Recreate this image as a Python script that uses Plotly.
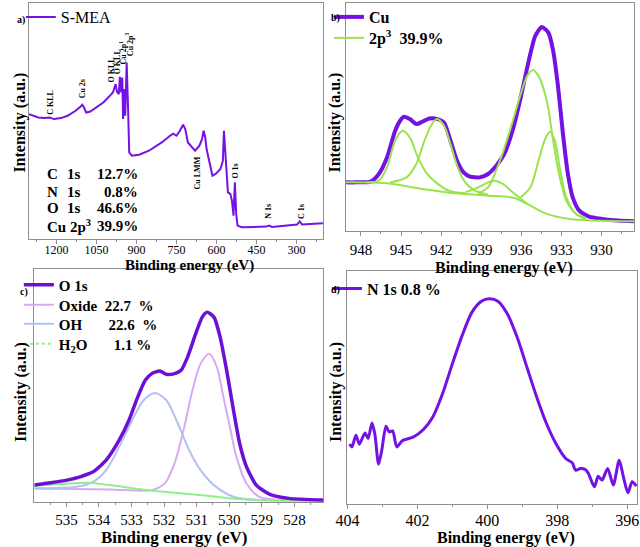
import plotly.graph_objects as go

W, H = 640, 547
def PX(x): return x / W
def PY(y): return 1 - y / H

SERIF = "Liberation Serif, Times New Roman, serif"
PURPLE = "#7412e3"
PURPLE_C = "#6c10d6"
GREEN = "#9be24f"
OXIDE = "#d9aaf2"
OH = "#b3c0f3"
H2O = "#8ff08a"
FRAME = "#8f8f8f"

# ---------------- data ----------------
# a) survey spectrum (binding energy eV, intensity a.u.)
survey_be = [1303, 1268, 1244, 1226, 1208, 1183, 1158, 1128, 1110, 1103, 1098, 1088, 1073, 1049, 1024,
             1000, 988, 978, 973, 966, 962, 957, 953, 950, 946, 942, 939, 936.5, 931, 927,
             917, 890, 853, 805, 774, 762, 750, 737, 725, 717, 707, 689, 680, 664, 654,
             648, 642, 637, 627, 615, 603, 585, 576, 572, 568, 563, 557, 548, 542, 536,
             531, 526, 521, 505, 414, 402, 392, 298, 288, 279, 201]
survey_int = [124.7, 121.3, 120.7, 121.3, 119.7, 120.7, 123, 128, 132, 134, 132, 126.3, 127.3, 131.3, 136.3,
              143, 146.3, 154.7, 147.3, 144.7, 162, 146.3, 161.3, 119.7, 149.7, 123, 151.3, 176.3, 128, 86.3,
              83, 84, 88, 96.3, 103, 105, 103, 108, 114, 109.7, 96.3, 91.3, 88, 93, 99.7,
              108, 101.3, 89.7, 76.3, 63, 64.7, 69.7, 78, 108, 91.3, 64.7, 46.3, 44.7, 38, 23,
              56.3, 24.7, 13, 11.3, 12, 13, 11.7, 14, 17.3, 14, 15.3]
survey_peaks = ["C KLL", "Cu 2s", "O KLL", "O KLL", "Cu 2p<sup>1</sup>", "Cu 2p<sup>3</sup>",
                "Cu LMM", "O 1s", "N 1s", "C 1s"]
survey_peak_be = [1220, 1102, 993, 971, 952, 927, 670, 527, 406, 282]
survey_peak_int = [136, 150, 169, 177, 186, 195, 66, 68, 27, 27]
comp_elements = ["C", "N", "O", "Cu 2p<sup>3</sup>"]
comp_orbitals = ["1s", "1s", "1s", ""]
comp_percent = ["12.7%", "0.8%", "46.6%", "39.9%"]

# b) Cu 2p3 high resolution
cu_be = [949.15, 948.34, 947.27, 946.66, 946.05, 945.44, 945.07, 944.78, 944.34, 943.86,
         943.37, 942.88, 942.27, 941.78, 941.30, 940.81, 940.32, 939.84, 939.11, 938.49,
         937.88, 937.28, 936.66, 936.05, 935.45, 934.96, 934.47, 933.98, 933.62, 933.25,
         932.89, 932.52, 932.16, 931.67, 930.93, 929.96, 928.74, 927.57]
cu_int = [48.3, 48.3, 49, 56.7, 73.3, 100, 110, 114, 111.7, 106.7,
          109.3, 112.3, 111.7, 108.3, 90, 70, 58.3, 54, 53.3, 56.7,
          65, 76.7, 100, 133.3, 170, 195, 204, 198.3, 180, 143.3,
          96.7, 56.7, 33.3, 20, 14, 11.7, 10, 9.3]
cu_bg_be = [949.15, 946.05, 943.37, 940.93, 938.49, 936.54, 935.56, 934.10, 932.40, 927.57]
cu_bg_int = [48.3, 47.3, 41.7, 37.3, 35, 32.7, 26.7, 16.7, 11.7, 9.3]
cu_p1_be = [947.6, 946.66, 946.05, 945.44, 944.88, 944.34, 943.74, 943.13, 942.40, 941.42, 940.2]
cu_p1_int = [48.3, 50, 63.3, 90, 100, 93.3, 73.3, 58.3, 48.3, 40, 37.3]
cu_p2_be = [945.81, 944.59, 943.86, 943.25, 942.76, 942.32, 941.78, 941.30, 940.81, 940.2, 939.47, 938.49]
cu_p2_int = [48.3, 53.3, 66.7, 90, 105, 111.7, 105, 86.7, 65, 48.3, 40, 36]
cu_p3_be = [940.2, 939.22, 938.49, 938.0, 937.39, 936.79, 936.18, 935.56]
cu_p3_int = [38.3, 43.3, 48.3, 50, 46.7, 40, 33.3, 26.7]
cu_p4_be = [939.22, 938.49, 938.0, 937.51, 936.79, 936.05, 935.56, 935.15, 934.72, 934.10,
            933.62, 933.13, 932.64, 931.91, 931.18]
cu_p4_int = [37.3, 43.3, 56.7, 73.3, 103.3, 136.7, 155, 161, 155, 130,
             90, 53.3, 30, 16.7, 12.7]
cu_p5_be = [936.05, 935.32, 934.72, 934.22, 933.86, 933.49, 933.13, 932.64, 931.91, 931.18]
cu_p5_int = [33.3, 43.3, 70, 91.7, 99, 90, 63.3, 33.3, 16.7, 11.7]

# c) O 1s
o_be = [536.0, 535.48, 534.98, 534.58, 534.18, 533.78, 533.38, 533.08, 532.83, 532.58,
        532.38, 532.13, 531.93, 531.68, 531.48, 531.28, 531.03, 530.83, 530.68, 530.47,
        530.28, 530.08, 529.87, 529.68, 529.47, 529.17, 528.77, 528.17, 527.12]
o_int = [17, 19.3, 22, 25.3, 30.3, 42, 62, 82, 103.7, 122,
         128.7, 131.3, 128, 128.7, 132, 145.3, 168.7, 185.3, 190.3, 185.3,
         165.3, 132, 92, 58.7, 35.3, 17, 8, 3.7, 2]
ox_be = [536.0, 533.68, 532.38, 531.98, 531.68, 531.38, 531.13, 530.88, 530.62, 530.38,
         530.18, 529.98, 529.78, 529.47, 529.08, 528.17, 527.12]
ox_int = [13.7, 12.7, 12, 18.7, 38.7, 75.3, 112, 138.7, 148.7, 135.3,
          105.3, 75.3, 45.3, 18.7, 5.3, 2, 1.5]
oh_be = [536.0, 534.68, 534.18, 533.78, 533.38, 532.98, 532.63, 532.28, 531.93, 531.58,
         531.23, 530.88, 530.47, 529.87, 529.17, 527.12]
oh_int = [13.7, 15.3, 20.3, 32, 55.3, 82, 102, 109.3, 102, 78.7,
          52, 32, 17, 5.3, 2, 1.3]
w_be = [536.0, 535.18, 534.28, 533.68, 532.68, 531.68, 530.68, 529.68, 528.68, 527.12]
w_int = [16, 18, 19.3, 17, 12.7, 9.3, 6.3, 3, 2, 1.7]

# d) N 1s
n_be = [403.94, 403.87, 403.76, 403.66, 403.5, 403.41, 403.30, 403.22, 403.11, 403.02,
        402.90, 402.81, 402.71, 402.59, 402.44, 402.11, 401.83, 401.56, 401.28, 401.0,
        400.72, 400.44, 400.17, 399.94, 399.70, 399.43, 399.15, 398.87, 398.59, 398.31,
        398.04, 397.76, 397.57, 397.48, 397.34, 397.20, 397.11, 396.94, 396.83, 396.72,
        396.56, 396.40, 396.23, 396.11, 395.98, 395.86, 395.74]
n_int = [60, 57.3, 69, 60, 71.3, 65.7, 81.3, 70.7, 40, 54,
         78, 72.3, 73.3, 57.3, 63.3, 67.3, 74.7, 87.3, 110.7, 140.7,
         169, 192.3, 203.3, 205.7, 203.3, 190.7, 167.3, 137.3, 107.3, 80.7,
         60.7, 45.7, 41.3, 34, 35.7, 34.7, 30.7, 17.3, 28, 24,
         35.7, 19, 44, 27.3, 11.3, 22.3, 18]

# ---------------- figure ----------------
fig = go.Figure()

# a
fig.add_trace(go.Scatter(x=survey_be, y=survey_int, mode="lines", name="S-MEA",
                         line=dict(color=PURPLE, width=2), xaxis="x", yaxis="y", legend="legend"))

# b
fig.add_trace(go.Scatter(x=cu_be, y=cu_int, mode="lines", name="<b>Cu</b>",
                         line=dict(color=PURPLE, width=4, shape="spline", smoothing=0.6),
                         xaxis="x2", yaxis="y2", legend="legend2"))
cu_parts = [(cu_bg_be, cu_bg_int), (cu_p1_be, cu_p1_int), (cu_p2_be, cu_p2_int),
            (cu_p3_be, cu_p3_int), (cu_p4_be, cu_p4_int), (cu_p5_be, cu_p5_int)]
for i, (bx, by) in enumerate(cu_parts):
    fig.add_trace(go.Scatter(x=bx, y=by, mode="lines",
                             name="<b>2p<sup>3</sup>\u00a0 39.9%</b>", showlegend=(i == 0),
                             line=dict(color=GREEN, width=2, shape="spline", smoothing=0.8),
                             xaxis="x2", yaxis="y2", legend="legend5"))

# c
fig.add_trace(go.Scatter(x=ox_be, y=ox_int, mode="lines", name="<b>Oxide\u00a0 22.7\u00a0 %</b>",
                         line=dict(color=OXIDE, width=2, shape="spline", smoothing=0.8),
                         xaxis="x3", yaxis="y3", legend="legend6"))
fig.add_trace(go.Scatter(x=oh_be, y=oh_int, mode="lines",
                         name="<b>OH" + "\u00a0" * 7 + "22.6\u00a0 %</b>",
                         line=dict(color=OH, width=2, shape="spline", smoothing=0.8),
                         xaxis="x3", yaxis="y3", legend="legend7"))
fig.add_trace(go.Scatter(x=w_be, y=w_int, mode="lines", showlegend=False, name="H2O",
                         line=dict(color=H2O, width=2, shape="spline", smoothing=0.8),
                         xaxis="x3", yaxis="y3"))
# legend entry for H2O (dotted sample, as in the reference key)
fig.add_trace(go.Scatter(x=[None], y=[None], mode="lines",
                         name="<b>H<sub>2</sub>O" + "\u00a0" * 7 + "1.1 %</b>",
                         line=dict(color=H2O, width=2, dash="dot"),
                         xaxis="x3", yaxis="y3", legend="legend8"))
fig.add_trace(go.Scatter(x=o_be, y=o_int, mode="lines", name="<b>O 1s</b>",
                         line=dict(color=PURPLE_C, width=3.5, shape="spline", smoothing=0.6),
                         xaxis="x3", yaxis="y3", legend="legend3"))

# d
fig.add_trace(go.Scatter(x=n_be, y=n_int, mode="lines", name="<b>N 1s 0.8 %</b>",
                         line=dict(color=PURPLE, width=3, shape="spline", smoothing=0.7),
                         xaxis="x4", yaxis="y4", legend="legend4"))


def xax(domain, rng, dtick, minor_dtick, fs, anchor, standoff):
    return dict(domain=domain, range=rng, anchor=anchor, showline=True, mirror=True,
                linecolor=FRAME, linewidth=1, ticks="outside", ticklen=4, tickcolor=FRAME,
                tickwidth=1, dtick=dtick, tick0=0, ticklabeloverflow="allow",
                minor=dict(dtick=minor_dtick, tick0=0, ticks="outside", ticklen=2,
                           tickcolor=FRAME, showgrid=False),
                tickfont=dict(family=SERIF, size=fs, color="black"),
                showgrid=False, zeroline=False, ticklabelstandoff=standoff)


def yax(domain, rng, anchor):
    return dict(domain=domain, range=rng, anchor=anchor, showline=True, mirror=True,
                linecolor=FRAME, linewidth=1, ticks="", showticklabels=False,
                showgrid=False, zeroline=False)


def leg(text_x, center_y, size):
    # plotly legend text starts ~48px right of the legend box, item centre ~15px below top
    return dict(x=PX(text_x - 48), y=PY(center_y - 15), xanchor="left", yanchor="top",
                bgcolor="rgba(0,0,0,0)", borderwidth=0,
                font=dict(family=SERIF, size=size, color="black"))


annotations = []
# panel letters
for txt, (x, y) in zip(["a)", "b)", "c)", "d)"], [(9, 19), (331, 17), (12, 292), (331, 290)]):
    annotations.append(dict(text="<b>" + txt + "</b>", x=PX(x), y=PY(y), xref="paper", yref="paper",
                            showarrow=False, font=dict(family=SERIF, size=10, color="black"),
                            xanchor="center", yanchor="middle"))
# axis titles
for (x, y, s) in [(181, 265, 15), (503, 267, 16), (166, 537, 17), (505, 538, 16)]:
    annotations.append(dict(text="<b>Binding energy (eV)</b>", x=PX(x), y=PY(y), xref="paper",
                            yref="paper", showarrow=False,
                            font=dict(family=SERIF, size=s, color="black"),
                            xanchor="center", yanchor="middle"))
for (x, y) in [(8, 122), (330, 122), (10, 392), (332, 392)]:
    annotations.append(dict(text="<b>Intensity (a.u.)</b>", x=PX(x), y=PY(y), xref="paper",
                            yref="paper", showarrow=False, textangle=-90,
                            font=dict(family=SERIF, size=16, color="black"),
                            xanchor="center", yanchor="middle"))
# survey peak labels
for t, bx, by in zip(survey_peaks, survey_peak_be, survey_peak_int):
    annotations.append(dict(text="<b>" + t + "</b>", x=bx, y=by, xref="x", yref="y",
                            showarrow=False, textangle=-90,
                            font=dict(family=SERIF, size=8, color="black"),
                            xanchor="center", yanchor="middle"))
# composition table
for i, (el, orb, pc) in enumerate(zip(comp_elements, comp_orbitals, comp_percent)):
    yy = [173, 191, 207, 225][i]
    annotations.append(dict(text="<b>" + el + "</b>", x=PX(34), y=PY(yy), xref="paper", yref="paper",
                            showarrow=False, font=dict(family=SERIF, size=15, color="black"),
                            xanchor="left", yanchor="middle"))
    if orb:
        annotations.append(dict(text="<b>" + orb + "</b>", x=PX(54), y=PY(yy), xref="paper",
                                yref="paper", showarrow=False,
                                font=dict(family=SERIF, size=15, color="black"),
                                xanchor="left", yanchor="middle"))
    annotations.append(dict(text="<b>" + pc + "</b>", x=PX(131), y=PY(yy), xref="paper", yref="paper",
                            showarrow=False, font=dict(family=SERIF, size=15, color="black"),
                            xanchor="right", yanchor="middle"))

fig.update_layout(
    width=W, height=H, margin=dict(l=0, r=0, t=0, b=0),
    paper_bgcolor="white", plot_bgcolor="white",
    xaxis=xax([PX(17), PX(318)], [1304, 200.5], 150, 75, 12, "y", -4),
    yaxis=yax([PY(238), PY(2)], [0, 236], "x"),
    xaxis2=xax([PX(341), PX(636)], [949.15, 927.57], 3, 1.5, 15, "y2", 1),
    yaxis2=yax([PY(230), PY(2)], [0, 228], "x2"),
    xaxis3=xax([PX(23), PX(318)], [535.98, 527.12], 1, 0.5, 15, "y3", 0),
    yaxis3=yax([PY(502), PY(268)], [0, 234], "x3"),
    xaxis4=xax([PX(343), PX(639)], [404.0, 395.72], 2, 1, 16, "y4", -2),
    yaxis4=yax([PY(504), PY(270)], [0, 234], "x4"),
    legend=leg(57, 14, 16),
    legend2=leg(372, 14, 16),
    legend5=leg(372, 35, 16),
    legend3=leg(55, 283, 15),
    legend6=leg(55, 303, 15),
    legend7=leg(55, 322, 15),
    legend8=leg(55, 342, 15),
    legend4=leg(370, 286, 16),
    annotations=annotations,
    showlegend=True,
)

fig.write_html("out.html")
